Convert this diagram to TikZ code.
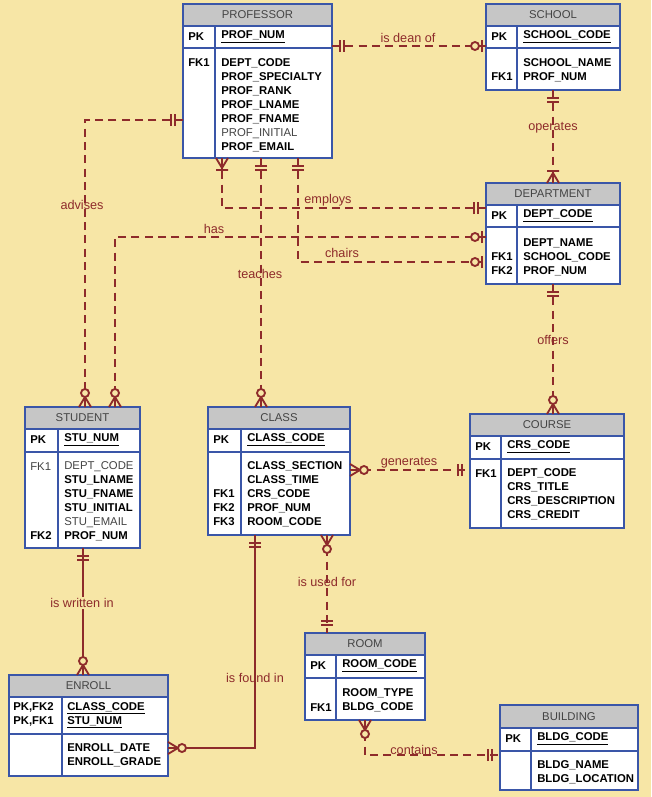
\documentclass[tikz,border=0pt]{standalone}
\usepackage{fontspec}
\setmainfont{Liberation Sans}
\begin{document}
\definecolor{bg}{HTML}{F7E6A6}
\definecolor{rel}{HTML}{8E2B2B}
\definecolor{hd}{HTML}{C6C6C6}
\definecolor{bd}{HTML}{3A56A8}
\definecolor{gt}{HTML}{444444}
\begin{tikzpicture}[x=0.75pt,y=-0.75pt,
  txt/.style={anchor=west,inner sep=0pt,align=left,font=\fontsize{8.5}{10.5}\selectfont,text=black},
  ttl/.style={inner sep=0pt,font=\fontsize{8.5}{10}\selectfont,text=gt},
  lab/.style={inner sep=1pt,font=\fontsize{9.5}{10}\selectfont,text=rel},
  rl/.style={draw=rel,line width=1.6pt,dash pattern=on 6pt off 4pt},
  rs/.style={draw=rel,line width=1.6pt},
  mk/.style={draw=rel,line width=1.4pt}]
\fill[bg] (0,0) rectangle (651,797);
\useasboundingbox (0,0) rectangle (651,797);
% entity frame
\newcommand\ent[9]{%
 \fill[hd] (#2,#4) rectangle (#3,#5);
 \fill[white] (#2,#5) rectangle (#3,#7);
 \draw[bd,line width=1pt] (#2,#4) rectangle (#3,#7) (#2,#5) -- (#3,#5) (#2,#6) -- (#3,#6) (#8,#5) -- (#8,#7);
 \node[ttl] (#1) at ({(#2+#3)/2},{(#4+#5)/2}) {#9};}
% markers: local frame, endpoint at origin, line leaves toward +x
\newcommand\mkr[3]{\begin{scope}[shift={#1},rotate=#2]
 \ifcase#3
  \draw[mk] (8,-6)--(8,6) (12,-6)--(12,6); % 0 double bar
 \or
  \draw[mk] (4,-6)--(4,6); \draw[mk,fill=bg] (11,0) circle (4); % 1 circle+bar
 \or
  \draw[mk] (0,-6)--(10,0)--(0,6) (0,0)--(10,0); \draw[mk,fill=bg] (14,0) circle (4); % 2 circle+crow
 \or
  \draw[mk] (0,-6)--(10,0)--(0,6) (0,0)--(12,0) (12,-6)--(12,6); % 3 bar+crow
 \fi
\end{scope}}
% ---------- entities
\ent{prof}{183}{332}{4}{26}{48}{158}{215}{PROFESSOR}
\node[txt] (profpk) at (188,37) {\textbf{PK}};
\node[txt] (profpka) at (221,37) {\textbf{\underline{PROF\_NUM}}};
\node[txt] (proffk) at (188,63) {\textbf{FK1}};
\node[txt,anchor=north west] (profat) at (221,58) {\textbf{DEPT\_CODE}\\\textbf{PROF\_SPECIALTY}\\\textbf{PROF\_RANK}\\\textbf{PROF\_LNAME}\\\textbf{PROF\_FNAME}\\\textcolor{gt}{PROF\_INITIAL}\\\textbf{PROF\_EMAIL}};
\ent{school}{486}{620}{4}{26}{48}{90}{517}{SCHOOL}
\node[txt] (schpk) at (491,37) {\textbf{PK}};
\node[txt] (schpka) at (523,37) {\textbf{\underline{SCHOOL\_CODE}}};
\node[txt,anchor=north west] (schat) at (523,58) {\textbf{SCHOOL\_NAME}\\\textbf{PROF\_NUM}};
\node[txt] (schfk) at (491,77) {\textbf{FK1}};
\ent{dept}{486}{620}{183}{205}{227}{284}{517}{DEPARTMENT}
\node[txt] (deppk) at (491,216) {\textbf{PK}};
\node[txt] (deppka) at (523,216) {\textbf{\underline{DEPT\_CODE}}};
\node[txt,anchor=north west] (depat) at (523,238) {\textbf{DEPT\_NAME}\\\textbf{SCHOOL\_CODE}\\\textbf{PROF\_NUM}};
\node[txt,anchor=north west] (depfk) at (491,252) {\textbf{FK1}\\\textbf{FK2}};
\ent{stu}{25}{140}{407}{429}{452}{548}{58}{STUDENT}
\node[txt] (stupk) at (30,440) {\textbf{PK}};
\node[txt] (stupka) at (64,440) {\textbf{\underline{STU\_NUM}}};
\node[txt,anchor=north west] (stuat) at (64,461) {\textcolor{gt}{DEPT\_CODE}\\\textbf{STU\_LNAME}\\\textbf{STU\_FNAME}\\\textbf{STU\_INITIAL}\\\textcolor{gt}{STU\_EMAIL}\\\textbf{PROF\_NUM}};
\node[txt] (stufk1) at (30,467) {\textcolor{gt}{FK1}};
\node[txt] (stufk2) at (30,536) {\textbf{FK2}};
\ent{cls}{208}{350}{407}{429}{452}{535}{241}{CLASS}
\node[txt] (clspk) at (213,440) {\textbf{PK}};
\node[txt] (clspka) at (247,440) {\textbf{\underline{CLASS\_CODE}}};
\node[txt,anchor=north west] (clsat) at (247,461) {\textbf{CLASS\_SECTION}\\\textbf{CLASS\_TIME}\\\textbf{CRS\_CODE}\\\textbf{PROF\_NUM}\\\textbf{ROOM\_CODE}};
\node[txt,anchor=north west] (clsfk) at (213,489) {\textbf{FK1}\\\textbf{FK2}\\\textbf{FK3}};
\ent{crs}{470}{624}{414}{436}{459}{528}{501}{COURSE}
\node[txt] (crspk) at (475,447) {\textbf{PK}};
\node[txt] (crspka) at (507,447) {\textbf{\underline{CRS\_CODE}}};
\node[txt,anchor=north west] (crsat) at (507,468) {\textbf{DEPT\_CODE}\\\textbf{CRS\_TITLE}\\\textbf{CRS\_DESCRIPTION}\\\textbf{CRS\_CREDIT}};
\node[txt] (crsfk) at (475,474) {\textbf{FK1}};
\ent{room}{305}{425}{633}{655}{678}{720}{336}{ROOM}
\node[txt] (rmpk) at (310,666) {\textbf{PK}};
\node[txt] (rmpka) at (342,666) {\textbf{\underline{ROOM\_CODE}}};
\node[txt,anchor=north west] (rmat) at (342,688) {\textbf{ROOM\_TYPE}\\\textbf{BLDG\_CODE}};
\node[txt] (rmfk) at (310,708) {\textbf{FK1}};
\ent{enr}{9}{168}{675}{697}{734}{776}{62}{ENROLL}
\node[txt,anchor=north west] (enrpk) at (13,702) {\textbf{PK,FK2}\\\textbf{PK,FK1}};
\node[txt,anchor=north west] (enrpka) at (67,702) {\textbf{\underline{CLASS\_CODE}}\\\textbf{\underline{STU\_NUM}}};
\node[txt,anchor=north west] (enrat) at (67,743) {\textbf{ENROLL\_DATE}\\\textbf{ENROLL\_GRADE}};
\ent{bld}{500}{638}{705}{728}{751}{790}{531}{BUILDING}
\node[txt] (bldpk) at (505,739) {\textbf{PK}};
\node[txt] (bldpka) at (537,739) {\textbf{\underline{BLDG\_CODE}}};
\node[txt,anchor=north west] (bldat) at (537,760) {\textbf{BLDG\_NAME}\\\textbf{BLDG\_LOCATION}};
% ---------- connector end points
\coordinate (a1) at (332,46); \coordinate (a2) at (486,46);
\coordinate (b1) at (553,90); \coordinate (b2) at (553,183);
\coordinate (c1) at (222,158); \coordinate (c2) at (486,208); \coordinate (c3) at (222,208);
\coordinate (d1) at (486,237); \coordinate (d2) at (115,407); \coordinate (d3) at (115,237);
\coordinate (e1) at (298,158); \coordinate (e2) at (486,262); \coordinate (e3) at (298,262);
\coordinate (f1) at (261,158); \coordinate (f2) at (261,407);
\coordinate (g1) at (183,120); \coordinate (g2) at (85,407); \coordinate (g3) at (85,120);
\coordinate (h1) at (553,284); \coordinate (h2) at (553,414);
\coordinate (i1) at (350,470); \coordinate (i2) at (470,470);
\coordinate (j1) at (327,535); \coordinate (j2) at (327,633);
\coordinate (k1) at (365,720); \coordinate (k2) at (500,755); \coordinate (k3) at (365,755);
\coordinate (l1) at (83,548); \coordinate (l2) at (83,675);
\coordinate (m1) at (255,535); \coordinate (m2) at (168,748); \coordinate (m3) at (255,748);
% ---------- connectors
\draw[rl] (a1)--(a2); \mkr{(a1)}{0}{0} \mkr{(a2)}{180}{1}
\node[lab] (la) at (408,38) {is dean of};
\draw[rl] (b1)--(b2); \mkr{(b1)}{-90}{0} \mkr{(b2)}{90}{3}
\node[lab] (lb) at (553,128) {operates};
\draw[rl] (c1)--(c3)--(c2); \mkr{(c1)}{-90}{3} \mkr{(c2)}{180}{0}
\node[lab] (lc) at (328,200) {employs};
\draw[rl] (d1)--(d3)--(d2); \mkr{(d1)}{180}{1} \mkr{(d2)}{90}{2}
\node[lab] (ld) at (214,229) {has};
\draw[rl] (e1)--(e3)--(e2); \mkr{(e1)}{-90}{0} \mkr{(e2)}{180}{1}
\node[lab] (le) at (342,253) {chairs};
\draw[rl] (f1)--(f2); \mkr{(f1)}{-90}{0} \mkr{(f2)}{90}{2}
\node[lab] (lf) at (260,274) {teaches};
\draw[rl] (g1)--(g3)--(g2); \mkr{(g1)}{180}{0} \mkr{(g2)}{90}{2}
\node[lab] (lg) at (82,205) {advises};
\draw[rl] (h1)--(h2); \mkr{(h1)}{-90}{0} \mkr{(h2)}{90}{2}
\node[lab] (lh) at (553,340) {offers};
\draw[rl] (i1)--(i2); \mkr{(i1)}{0}{2} \mkr{(i2)}{180}{0}
\node[lab] (li) at (409,463) {generates};
\draw[rl] (j1)--(j2); \mkr{(j1)}{-90}{2} \mkr{(j2)}{90}{0}
\node[lab] (lj) at (327,582) {is used for};
\draw[rl] (k1)--(k3)--(k2); \mkr{(k1)}{-90}{2} \mkr{(k2)}{180}{0}
\node[lab] (lk) at (414,750) {contains};
\draw[rs] (l1)--(l2); \mkr{(l1)}{-90}{0} \mkr{(l2)}{90}{2}
\node[lab,fill=bg] (ll) at (82,603) {is written in};
\draw[rs] (m1)--(m3)--(m2); \mkr{(m1)}{-90}{0} \mkr{(m2)}{0}{2}
\node[lab] (lm) at (255,678) {is found in};
\end{tikzpicture}
\end{document}
